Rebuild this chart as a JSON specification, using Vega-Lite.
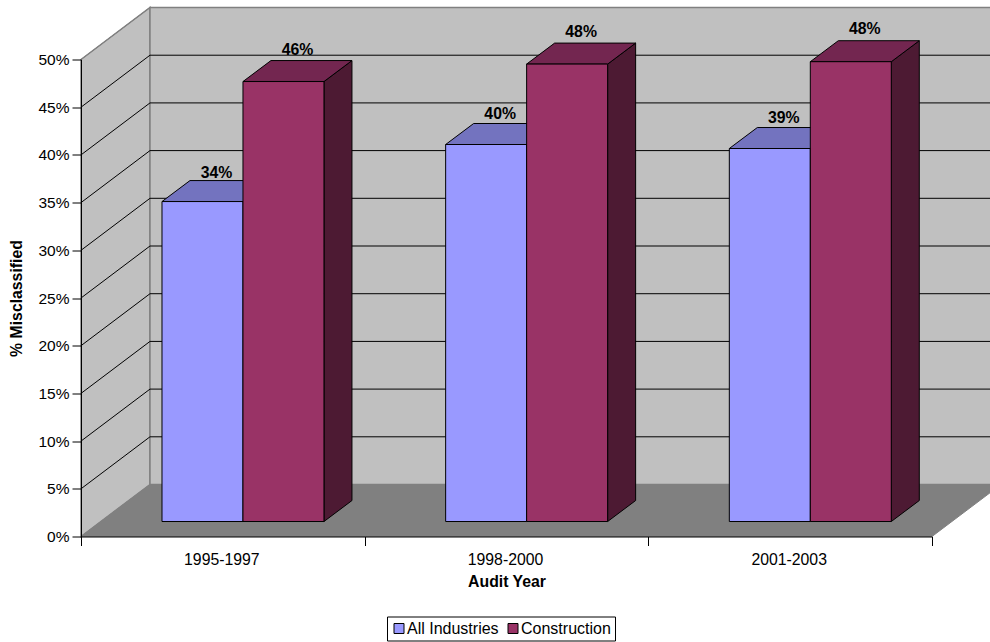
{
"$schema":"https://vega.github.io/schema/vega-lite/v6.json",
"width":851,"height":477,
"autosize":{"type":"none"},
"padding":{"left":81,"top":59.5,"right":58,"bottom":105.5},
"background":"white",
"config":{"view":{"stroke":null},"font":"Liberation Sans"},
"datasets":{
"bars":[
{"period":"1995-1997","series":"All Industries","value":0.3354},
{"period":"1995-1997","series":"Construction","value":0.4612},
{"period":"1998-2000","series":"All Industries","value":0.3952},
{"period":"1998-2000","series":"Construction","value":0.4795},
{"period":"2001-2003","series":"All Industries","value":0.391},
{"period":"2001-2003","series":"Construction","value":0.482}
],
"gridlines":[{"level":0.05},{"level":0.1},{"level":0.15},{"level":0.2},{"level":0.25},{"level":0.3},{"level":0.35},{"level":0.4},{"level":0.45},{"level":0.5}],
"depths":[{"depth":0},{"depth":1}]
},
"encoding":{
"x":{"field":"px","type":"quantitative","stack":null,"title":"Audit Year",
"scale":{"domain":[0,3],"nice":false,"zero":false},
"axis":{"values":[0,0.5,1,1.5,2,2.5,3],"grid":false,"zindex":1,
"labelExpr":"datum.value===0.5?'1995-1997':datum.value===1.5?'1998-2000':datum.value===2.5?'2001-2003':''",
"tickOpacity":{"condition":{"test":"datum.value%1!==0","value":0},"value":1},
"labelOverlap":false,"labelBound":false,"labelFlush":false,"labelFontSize":15.8,"labelColor":"#000","labelPadding":7,"labelOffset":-1.5,
"tickSize":9,"tickColor":"#000","domainColor":"#000","titleFontSize":15.8,"titleFontWeight":"bold","titleColor":"#000","titlePadding":7}},
"y":{"field":"py","type":"quantitative","stack":null,"title":"% Misclassified",
"scale":{"domain":[0,0.5],"nice":false,"zero":false},
"axis":{"values":[0,0.05,0.1,0.15,0.2,0.25,0.3,0.35,0.4,0.45,0.5],"format":".0%","grid":false,"zindex":1,
"labelFontSize":15.5,"labelColor":"#000","labelPadding":3,"tickSize":9,"tickColor":"#000","domainColor":"#000",
"titleFontSize":15.8,"titleFontWeight":"bold","titleColor":"#000","titlePadding":13}}
},
"layer":[
{"data":{"name":"depths"},
"transform":[{"calculate":"datum.depth*0.2432","as":"px"},{"calculate":"0.5+datum.depth*0.0545","as":"py"},{"calculate":"datum.depth*0.0545","as":"pyb"}],
"mark":{"type":"area","fill":"#C0C0C0","stroke":"#808080","strokeWidth":1.5},
"encoding":{"y2":{"field":"pyb"}}},
{"data":{"name":"depths"},
"transform":[{"filter":"datum.depth===1"},{"calculate":"0.2432","as":"px"},{"calculate":"3.2432","as":"pxr"},{"calculate":"0.5545","as":"py"},{"calculate":"0.0545","as":"pyb"}],
"mark":{"type":"rect","fill":"#C0C0C0","stroke":"#808080","strokeWidth":1.5},
"encoding":{"x2":{"field":"pxr"},"y2":{"field":"pyb"}}},
{"data":{"name":"depths"},
"transform":[{"calculate":"datum.depth*0.2432","as":"px"},{"calculate":"3+datum.depth*0.2432","as":"pxr"},{"calculate":"datum.depth*0.0545","as":"py"}],
"mark":{"type":"area","orient":"horizontal","fill":"#808080","stroke":"#808080","strokeWidth":1},
"encoding":{"x2":{"field":"pxr"}}},
{"data":{"name":"gridlines"},
"transform":[{"calculate":"[0,1,2]","as":"depth"},{"flatten":["depth"]},
{"calculate":"datum.depth===2?3.2432:datum.depth*0.2432","as":"px"},
{"calculate":"datum.level+(datum.depth===0?0:0.0545)","as":"py"}],
"mark":{"type":"line","strokeWidth":1},
"encoding":{"detail":{"field":"level"},
"stroke":{"condition":{"test":"datum.level===0.5","value":"#808080"},"value":"#000"}}},
{"data":{"name":"bars"},
"transform":[
{"calculate":"indexof(['1995-1997','1998-2000','2001-2003'],datum.period)+0.2855+(datum.series==='Construction'?0.2855:0)","as":"left"},
{"calculate":"[0,1]","as":"depth"},{"flatten":["depth"]},
{"calculate":"datum.left+0.2855+datum.depth*0.0987","as":"px"},
{"calculate":"0.0157+datum.value+datum.depth*0.022","as":"py"},
{"calculate":"0.0157+datum.depth*0.022","as":"pyb"}],
"mark":{"type":"area","stroke":"#000","strokeWidth":1},
"encoding":{"y2":{"field":"pyb"},"detail":[{"field":"period"},{"field":"series"}],
"fill":{"condition":{"test":"datum.series==='Construction'","value":"#4D1A33"},"value":"#4D4D80"}}},
{"data":{"name":"bars"},
"transform":[
{"calculate":"indexof(['1995-1997','1998-2000','2001-2003'],datum.period)+0.2855+(datum.series==='Construction'?0.2855:0)","as":"left"},
{"calculate":"[0,1]","as":"depth"},{"flatten":["depth"]},
{"calculate":"datum.left+datum.depth*0.0987","as":"px"},
{"calculate":"datum.left+0.2855+datum.depth*0.0987","as":"pxr"},
{"calculate":"0.0157+datum.value+datum.depth*0.022","as":"py"}],
"mark":{"type":"area","orient":"horizontal","stroke":"#000","strokeWidth":1},
"encoding":{"x2":{"field":"pxr"},"detail":[{"field":"period"},{"field":"series"}],
"fill":{"condition":{"test":"datum.series==='Construction'","value":"#732650"},"value":"#7373BF"}}},
{"data":{"name":"bars"},
"transform":[
{"calculate":"indexof(['1995-1997','1998-2000','2001-2003'],datum.period)+0.2855+(datum.series==='Construction'?0.2855:0)","as":"px"},
{"calculate":"datum.px+0.2855","as":"pxr"},
{"calculate":"0.0157+datum.value","as":"py"},
{"calculate":"0.0157","as":"pyb"}],
"mark":{"type":"rect","stroke":"#000","strokeWidth":1},
"encoding":{"x2":{"field":"pxr"},"y2":{"field":"pyb"},
"fill":{"field":"series","type":"nominal","scale":{"domain":["All Industries","Construction"],"range":["#9999FF","#993366"]},
"legend":{"title":null,"orient":"none","legendX":306,"legendY":557,"direction":"horizontal","columns":2,"symbolType":"square","symbolSize":100,"symbolStrokeColor":"#000","symbolStrokeWidth":1,"labelFontSize":16,"labelColor":"#000","strokeColor":"#000","fillColor":"#fff","padding":4,"columnPadding":6,"labelOffset":0}}}},
{"data":{"name":"bars"},
"transform":[
{"calculate":"indexof(['1995-1997','1998-2000','2001-2003'],datum.period)+0.2855+(datum.series==='Construction'?0.2855:0)+0.14275+0.0494","as":"px"},
{"calculate":"0.0157+datum.value*1.025+0.022","as":"py"}],
"mark":{"type":"text","fontWeight":"bold","fontSize":15.8,"baseline":"middle","align":"center","color":"#000"},
"encoding":{"text":{"field":"value","type":"quantitative","format":".0%"}}}
]
}
